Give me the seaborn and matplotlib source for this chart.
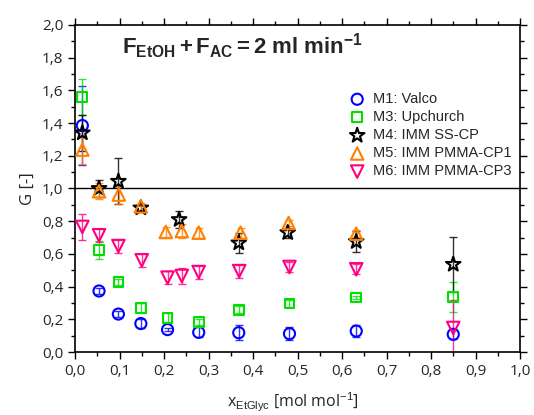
import numpy as np
import pandas as pd
import matplotlib
matplotlib.use("Agg")
import matplotlib.pyplot as plt
import seaborn as sns
from matplotlib.ticker import MultipleLocator, FuncFormatter

# ---------------- data ----------------
m1_x = [0.0165, 0.054, 0.0975, 0.148, 0.208, 0.278, 0.368, 0.482, 0.632, 0.85]
m1_y = [1.385, 0.373, 0.232, 0.174, 0.137, 0.120, 0.118, 0.112, 0.128, 0.108]
m1_e = [0.24, 0.02, 0.02, 0.025, 0.01, 0.03, 0.045, 0.04, 0.035, 0.03]

m3_x = [0.0165, 0.054, 0.0975, 0.148, 0.208, 0.278, 0.368, 0.482, 0.632, 0.85]
m3_y = [1.56, 0.622, 0.428, 0.271, 0.210, 0.183, 0.259, 0.296, 0.333, 0.337]
m3_e = [0.11, 0.055, 0.02, 0.03, 0.03, 0.02, 0.02, 0.02, 0.01, 0.09]

m4_x = [0.0165, 0.054, 0.0975, 0.148, 0.234, 0.368, 0.478, 0.632, 0.85]
m4_y = [1.34, 1.00, 1.044, 0.881, 0.81, 0.667, 0.73, 0.675, 0.536]
m4_e = [0.11, 0.05, 0.14, 0.02, 0.05, 0.06, 0.03, 0.065, 0.17]

m5_x = [0.0165, 0.054, 0.0985, 0.148, 0.204, 0.240, 0.278, 0.372, 0.480, 0.632]
m5_y = [1.238, 0.983, 0.963, 0.891, 0.734, 0.740, 0.730, 0.730, 0.789, 0.724]
m5_e = [0.09, 0.05, 0.06, 0.02, 0.03, 0.04, 0.03, 0.03, 0.02, 0.02]

m6_x = [0.0165, 0.054, 0.0975, 0.150, 0.208, 0.240, 0.278, 0.369, 0.482, 0.632, 0.85]
m6_y = [0.765, 0.714, 0.648, 0.561, 0.455, 0.465, 0.489, 0.495, 0.520, 0.506, 0.147]
m6_e = [0.08, 0.04, 0.04, 0.04, 0.04, 0.05, 0.04, 0.04, 0.03, 0.03, 0.17]

labels = ["M1: Valco", "M3: Upchurch", "M4: IMM SS-CP", "M5: IMM PMMA-CP1", "M6: IMM PMMA-CP3"]
colors = ["#0000FF", "#00E000", "#000000", "#FF8000", "#FF0080"]
markers = ["o", "s", "*", "^", "v"]
sizes = [8, 7, 11, 9, 9]

series = [(m1_x, m1_y, m1_e), (m3_x, m3_y, m3_e), (m4_x, m4_y, m4_e),
          (m5_x, m5_y, m5_e), (m6_x, m6_y, m6_e)]

frames = []
for lab, (x, y, e) in zip(labels, series):
    frames.append(pd.DataFrame({"x": x, "G": y, "err": e, "series": lab}))
df = pd.concat(frames, ignore_index=True)

# ---------------- plot ----------------
sns.set_style("ticks")
plt.rcParams['font.family'] = ['Open Sans', 'DejaVu Sans']
plt.rcParams['mathtext.fontset'] = 'custom'
plt.rcParams['mathtext.rm'] = 'Liberation Sans'
plt.rcParams['mathtext.bf'] = 'Liberation Sans:bold'
plt.rcParams['mathtext.it'] = 'Liberation Sans'

fig = plt.figure(figsize=(5.34, 4.15), dpi=100)
ax = fig.add_axes([75/534, 63/415, 445/534, 327/415])

ax.axhline(1.0, color="black", lw=1.0, zorder=1)

for lab, col, mk, ms in zip(labels, colors, markers, sizes):
    d = df[df["series"] == lab]
    ax.errorbar(d["x"], d["G"], yerr=d["err"], fmt="none", ecolor=col,
                elinewidth=1.0, capsize=3, capthick=1.0, alpha=0.8, zorder=2)

for lab, col, mk, ms in zip(labels, colors, markers, sizes):
    d = df[df["series"] == lab]
    sns.scatterplot(data=d, x="x", y="G", ax=ax, marker=mk, s=ms**2,
                    facecolor="none", edgecolor=col, linewidth=1.5,
                    label=lab, zorder=3)

ax.set_xlim(0, 1.0)
ax.set_ylim(0, 2.0)
ax.xaxis.set_major_locator(MultipleLocator(0.1))
ax.xaxis.set_minor_locator(MultipleLocator(0.05))
ax.yaxis.set_major_locator(MultipleLocator(0.2))
ax.yaxis.set_minor_locator(MultipleLocator(0.1))
fmt = FuncFormatter(lambda v, p: f"{v:.1f}".replace(".", ","))
ax.xaxis.set_major_formatter(fmt)
ax.yaxis.set_major_formatter(fmt)
ax.tick_params(which="both", direction="out", top=True, right=True,
               labeltop=False, labelright=False, width=1.0, color="black")
ax.tick_params(which="major", length=5, labelsize=11)
ax.tick_params(which="minor", length=3)
for s in ax.spines.values():
    s.set_linewidth(1.2)
    s.set_color("black")

ax.set_xlabel("")
ax.set_ylabel("G [-]", fontsize=12, labelpad=4)

fig.text(293/534, 1 - 402/415, r"x$_{\mathrm{EtGlyc}}$ [mol mol$^{-1}$]",
         ha="center", va="center", fontsize=11.5)

ax.text(0.105, 0.935, r"$\mathbf{F_{EtOH} + F_{AC} = 2\ ml\ min^{-1}}$",
        transform=ax.transAxes, fontsize=16, ha="left", va="center")

leg = ax.legend(loc="upper left", bbox_to_anchor=(0.585, 0.835), frameon=False,
                handlelength=1.2, handletextpad=0.5, labelspacing=0.28,
                prop={"family": "Liberation Sans", "size": 10.5})

fig.savefig("out.png", dpi=100)
